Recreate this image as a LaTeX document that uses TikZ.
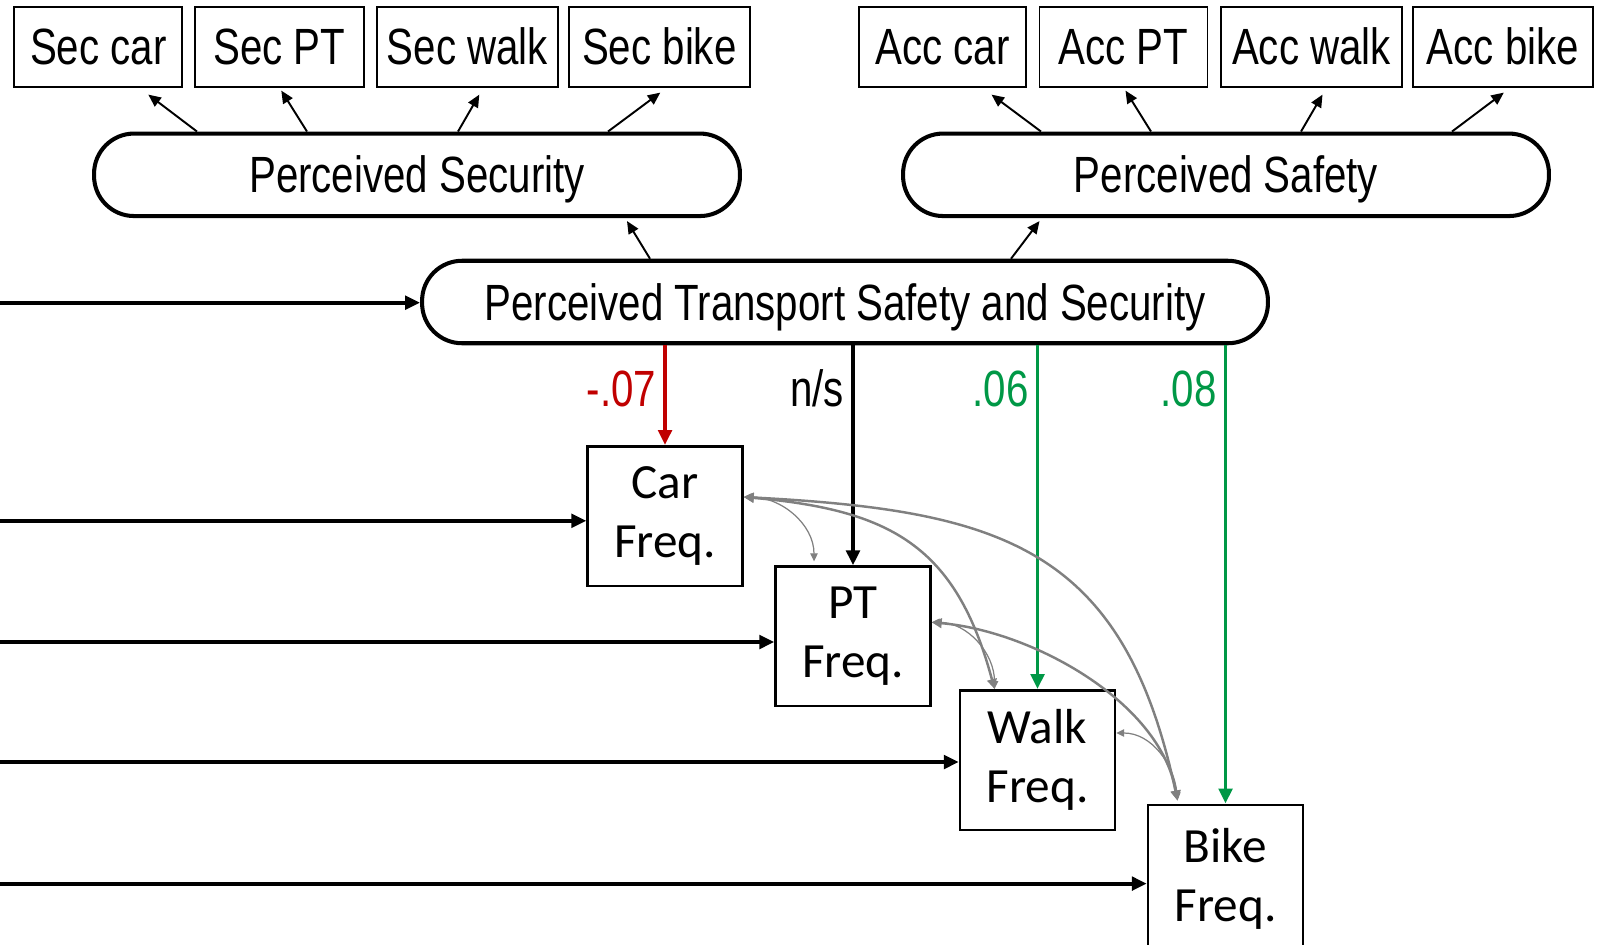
\documentclass[tikz,border=0pt]{standalone}
\usepackage{fontspec}
\newfontfamily\narrowfont{Liberation Sans}[FakeStretch=0.79]
\newfontfamily\calfont{Carlito}
\usetikzlibrary{arrows.meta,calc}
\definecolor{negred}{RGB}{192,0,0}
\definecolor{posgreen}{RGB}{0,152,70}
\definecolor{covgray}{RGB}{128,128,128}
\tikzset{
	indicator/.style={draw, line width=1.1pt, minimum height=1.59cm, inner sep=0pt, text height=20.5pt, text depth=0pt, font=\narrowfont\fontsize{29}{33}\selectfont},
	latent/.style={draw, line width=2.3pt, rounded corners=0.8cm, minimum height=1.65cm, inner sep=0pt, text height=20.5pt, text depth=0pt, font=\narrowfont\fontsize{29}{33}\selectfont},
	freq/.style={draw, line width=1.4pt, minimum width=3.1cm, minimum height=2.79cm, inner sep=0pt, align=center, font=\calfont\fontsize{28}{33.5}\selectfont},
	load/.style={line width=1.1pt, -{Triangle[length=0.25cm,width=0.22cm]}},
	path/.style={line width=2.2pt, -{Triangle[length=0.3cm,width=0.27cm]}},
	covthin/.style={covgray, line width=0.7pt, {Triangle[length=0.16cm,width=0.15cm]}-{Triangle[length=0.16cm,width=0.15cm]}},
	covthick/.style={covgray, line width=1.4pt, {Triangle[length=0.2cm,width=0.19cm]}-{Triangle[length=0.2cm,width=0.19cm]}},
	coef/.style={anchor=east, inner sep=4pt, text height=20.5pt, text depth=0pt, font=\narrowfont\fontsize{29}{33}\selectfont}
}
\begin{document}
\begin{tikzpicture}[x=0.02cm,y=-0.02cm]
	\useasboundingbox (0,0) rectangle (1598,944);
	% indicators
	\node[indicator, minimum width=3.36cm] (seccar) at (98.3,46.9) {Sec car};
	\node[indicator, minimum width=3.38cm] (secpt) at (279.3,46.9) {Sec PT};
	\node[indicator, minimum width=3.61cm] (secwalk) at (467.3,46.9) {Sec walk};
	\node[indicator, minimum width=3.62cm] (secbike) at (659.3,46.9) {Sec bike};
	\node[indicator, minimum width=3.34cm] (acccar) at (942.5,46.9) {Acc car};
	\node[indicator, minimum width=3.36cm] (accpt) at (1123.5,46.9) {Acc PT};
	\node[indicator, minimum width=3.62cm] (accwalk) at (1311.5,46.9) {Acc walk};
	\node[indicator, minimum width=3.61cm] (accbike) at (1502.8,46.9) {Acc bike};
	% latent variables
	\node[latent, minimum width=12.92cm] (psec) at (417,174.8) {Perceived Security};
	\node[latent, minimum width=12.92cm] (psaf) at (1226,174.8) {Perceived Safety};
	\node[latent, minimum width=16.92cm] (ptss) at (845,302) {Perceived Transport Safety and Security};
	% outcomes
	\node[freq] (car) at (665,516) {Car\\Freq.};
	\node[freq] (pt) at (853,636.3) {PT\\Freq.};
	\node[freq] (walk) at (1037.5,760) {Walk\\Freq.};
	\node[freq, minimum height=2.95cm] (bike) at (1225.5,878.5) {Bike\\Freq.};

	\foreach \s/\ind/\ex/\ey in {-220/seccar/50/7, -110/secpt/2/3, 41/secwalk/12/7, 191/secbike/1/5}
		\draw[load] ($(psec.north)+(\s,0)$) -- ($(\ind.south)+(\ex,\ey)$);
	\foreach \s/\ind/\ex/\ey in {-185/acccar/49/7, -75/accpt/2/3, 75/accwalk/11/7, 226/accbike/1/5}
		\draw[load] ($(psaf.north)+(\s,0)$) -- ($(\ind.south)+(\ex,\ey)$);
	\draw[load] ($(ptss.north)+(-195,0)$) -- ($(psec.south)+(210,3)$);
	\draw[load] ($(ptss.north)+(166,0)$) -- ($(psaf.south)+(-186.5,3)$);

	\foreach \y/\tgt [count=\i] in {302.7/ptss, 520.8/car, 642/pt, 762/walk, 883.6/bike}{
		\coordinate (in\i) at (0,\y);
		\draw[path] (in\i) -- (in\i -| \tgt.west);
	}

	\draw[path,negred] (ptss.south -| car.north) -- node[coef,pos=0.43]{-.07} (car.north);
	\draw[path] (ptss.south -| pt.north) -- node[coef,pos=0.197]{n/s} (pt.north);
	\draw[path,posgreen] (ptss.south -| walk.north) -- node[coef,pos=0.127]{.06} (walk.north);
	\draw[path,posgreen] (ptss.south -| bike.north) -- node[coef,pos=0.095]{.08} (bike.north);

	% covariances
	\coordinate (carR) at ($(car.east)+(0,-19)$);
	\coordinate (ptR) at ($(pt.east)+(0,-14)$);
	\coordinate (walkR) at ($(walk.east)+(0,-27)$);
	\coordinate (ptT) at ($(pt.north)+(-39,-4)$);
	\coordinate (walkT) at ($(walk.north)+(-43,0)$);
	\coordinate (bikeT) at ($(bike.north)+(-48,-3)$);
	\draw[covthin] (carR) to[out=0,in=90] (ptT);
	\draw[covthick] (carR) to[out=-5,in=105,looseness=1.2] (walkT);
	\draw[covthick] (carR) to[out=-3,in=102,looseness=1.25] (bikeT);
	\draw[covthin] (ptR) to[out=0,in=90] (walkT);
	\draw[covthick] (ptR) to[out=-5,in=100,looseness=0.85] (bikeT);
	\draw[covthin] (walkR) to[out=0,in=95] (bikeT);
\end{tikzpicture}
\end{document}
